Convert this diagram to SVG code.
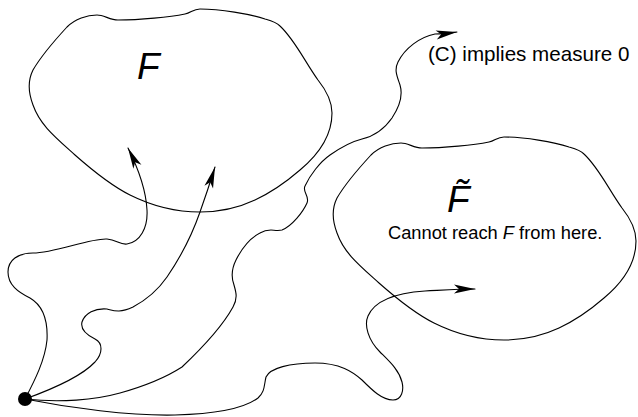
<svg xmlns="http://www.w3.org/2000/svg" xmlns:xlink="http://www.w3.org/1999/xlink" width="638" height="417" viewBox="0 0 638 417">
  <style>
    .ln { fill: none; stroke: #000; stroke-width: 1.1; stroke-linecap: round; stroke-linejoin: round; }
    .arr { marker-end: url(#ah); }
    .big { font-family: "Liberation Sans", Arial, sans-serif; font-style: italic; font-size: 37px; fill: #000; }
    .lbl { font-family: "Liberation Sans", Arial, sans-serif; font-size: 18.3px; fill: #000; }
    .lblc { font-family: "Liberation Sans", Arial, sans-serif; font-size: 20.6px; fill: #000; }
    .it { font-style: italic; }
  </style>
  <defs>
    <marker id="ah" markerUnits="userSpaceOnUse" markerWidth="24" markerHeight="12" viewBox="-22 -6 24 12" refX="0" refY="0" orient="auto" overflow="visible">
      <path d="M0,0 L-21,-4.5 L-16,0 L-21,4.5 Z" fill="#000"/>
    </marker>
    <path id="blob" d="M 97,15 C 104,15 110,20 118,20 C 140,20 170,17 185,14 C 191,13 193,9 200,9 C 220,9 250,14 265,19 C 272,21 276,22 280,26 C 295,40 305,62 318,80 C 326,90 332,100 332,113 C 332,135 318,155 300,170 C 285,183 272,192 255,200 C 238,208 220,212 200,212 C 175,212 150,205 130,195 C 110,185 92,170 75,155 C 55,137 40,125 33,105 C 28,92 28,80 33,70 C 40,58 55,40 67,27 C 75,19 87,15 97,15 Z"/>
  </defs>
  <rect width="638" height="417" fill="#fff"/>

  <g id="region-F">
    <use xlink:href="#blob" href="#blob" class="ln"/>
    <text class="big" x="137" y="79">F</text>
  </g>

  <g id="region-Ftilde">
    <use xlink:href="#blob" href="#blob" class="ln" transform="translate(304,128)"/>
    <text class="big" x="447" y="212">F̃</text>
    <text class="lbl" x="388" y="239">Cannot reach <tspan class="it">F</tspan> from here.</text>
  </g>

  <g id="label-C">
    <text class="lblc" x="428" y="61">(C) implies measure 0</text>
  </g>

  <g id="connectors">
    <path class="ln arr" d="M 25,399 C 35,380 45,360 47,340 C 48,320 42,305 30,298 C 18,292 8,285 8,272 C 8,260 18,253 33,253 C 55,253 90,238 107,239 C 117,240 120,245 127,244 C 140,242 148,228 147,210 C 146,190 138,168 128,148"/>
    <path class="ln arr" d="M 25,399 C 50,390 80,378 95,362 C 103,353 103,343 95,339 C 87,335 80,330 82,322 C 85,313 95,308 107,309 C 115,311 120,313 133,307 C 148,299 158,290 167,277 C 180,258 192,235 200,212 C 205,198 210,183 215,167"/>
    <path class="ln arr" d="M 25,399 C 60,403 95,400 120,393 C 145,386 165,378 182,367 C 200,350 222,327 233,307 C 238,298 236,292 234,285 C 231,277 232,268 236,260 C 242,248 250,238 260,233 C 270,227 274,232 282,230 C 292,226 303,212 307,203 C 310,196 302,192 305,186 C 310,175 320,162 330,155 C 340,148 350,142 362,139 C 375,136 385,128 392,118 C 400,106 403,95 400,85 C 397,76 394,70 398,62 C 405,48 420,37 435,34 C 442,34 450,33 457,32"/>
    <path class="ln arr" d="M 25,399 C 70,408 130,416 175,415 C 215,414 245,408 258,398 C 265,392 264,385 266,377 C 270,368 290,363 315,363 C 340,363 353,372 362,380 C 372,390 382,400 393,400 C 402,400 404,390 402,382 C 399,370 390,362 380,352 C 368,340 364,325 368,316 C 375,300 395,293 425,291 C 445,290 460,289 475,289"/>
  </g>

  <g id="start-point">
    <circle cx="25" cy="399" r="7" fill="#000"/>
  </g>
</svg>
